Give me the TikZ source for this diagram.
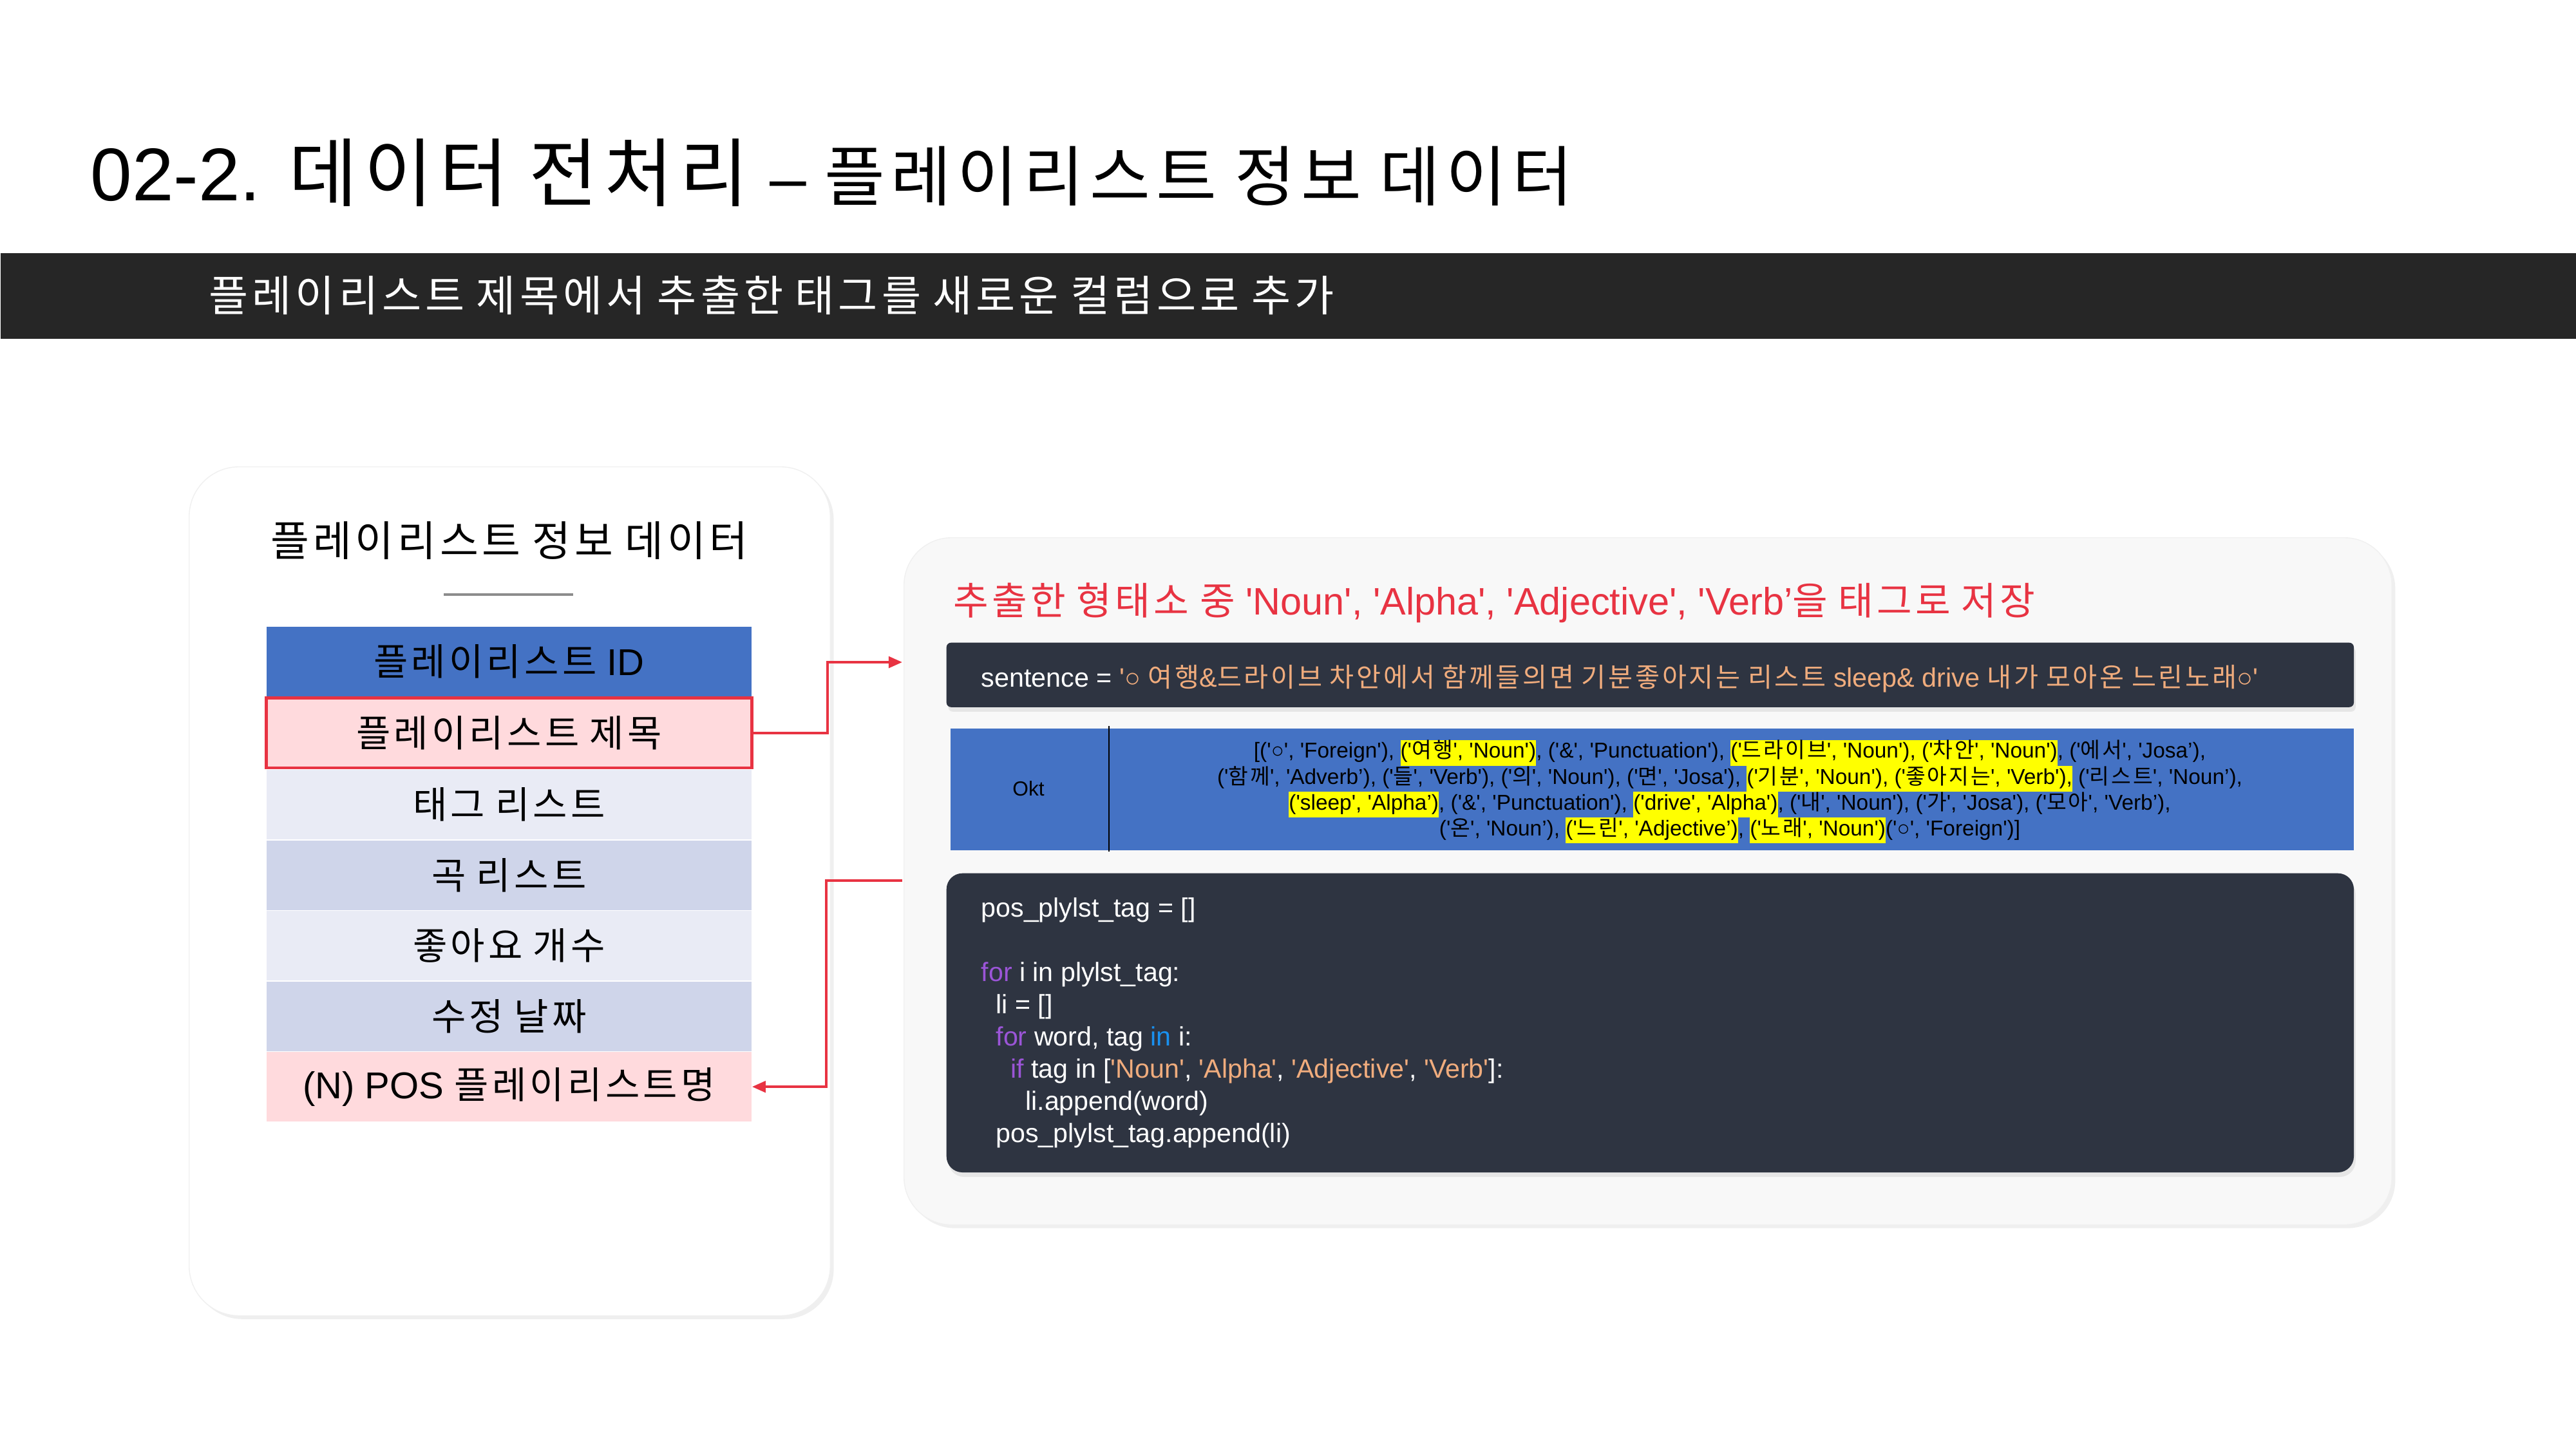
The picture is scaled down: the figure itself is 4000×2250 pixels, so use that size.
\documentclass[tikz,border=0pt]{standalone}
\usepackage{fontspec}
\setmainfont{Liberation Sans}[Ligatures=TeXOff]
\newfontfamily\krfamily{Noto Sans CJK KR}[LetterSpace=9]
\newXeTeXintercharclass\hangulclass
\count255="AC00
\loop\XeTeXcharclass\count255=\hangulclass
  \ifnum\count255<"D7A3 \advance\count255 by 1 \repeat
\XeTeXinterchartokenstate=1
\XeTeXinterchartoks 0 \hangulclass={\krfamily}
\XeTeXinterchartoks 4095 \hangulclass={\krfamily}
\XeTeXinterchartoks \hangulclass 0={\rmfamily}
\XeTeXinterchartoks \hangulclass 4095={\rmfamily}
\usepackage{tikz}
\usetikzlibrary{arrows.meta,positioning,shadows}
\definecolor{bandgray}{RGB}{38,38,38}
\definecolor{rowblue}{RGB}{68,114,196}
\definecolor{rowpink}{RGB}{255,218,221}
\definecolor{rowlight}{RGB}{233,235,245}
\definecolor{rowmid}{RGB}{207,213,234}
\definecolor{alertred}{RGB}{232,51,66}
\definecolor{cardgray}{RGB}{248,248,248}
\definecolor{codebg}{RGB}{46,52,65}
\definecolor{strorange}{RGB}{240,172,125}
\definecolor{kwpurple}{RGB}{155,85,215}
\definecolor{kwblue}{RGB}{25,145,240}
\definecolor{hlyellow}{RGB}{255,255,0}
\definecolor{linegray}{RGB}{140,140,140}
\newcommand{\okthl}[1]{{\setlength{\fboxsep}{0pt}\colorbox{hlyellow}{\strut#1}}}

\begin{document}
\begin{tikzpicture}[x=0.01cm,y=-0.01cm,
    row/.style={minimum width=7.53cm,minimum height=1.08cm,inner sep=0pt,
      font=\fontsize{16.5}{20}\selectfont},
    card/.style={anchor=north west,inner sep=0pt,draw=black!6,
      drop shadow={shadow xshift=1.5pt,shadow yshift=-1.5pt,opacity=0.12}},
    codepanel/.style={anchor=north west,inner sep=0pt,fill=codebg,
      drop shadow={shadow xshift=0.8pt,shadow yshift=-2pt,opacity=0.15}},
    flow/.style={alertred,line width=1.1pt,-{Triangle[length=6pt,width=5pt]}}]
    \useasboundingbox[fill=white] (0,0) rectangle (4000,2250);

    \node[anchor=base west,inner sep=0pt] (title) at (140,311)
      {\fontsize{33}{39}\selectfont 02-2. 데이터 전처리
       {\fontsize{29}{35}\selectfont – 플레이리스트 정보 데이터}};
    \node[anchor=north west,fill=bandgray,minimum width=40cm,
      minimum height=1.33cm,inner sep=0pt] (band) at (0,392) {};
    \node[anchor=west,text=white,inner sep=0pt,
      font=\fontsize{18.9}{22}\selectfont] (bandtext) at (324,458)
      {플레이리스트 제목에서 추출한 태그를 새로운 컬럼으로 추가};

    \node[card,fill=white,minimum width=9.95cm,minimum height=13.17cm,
      rounded corners=22pt] (infocard) at (293,724) {};
    \node[font=\fontsize{18.5}{22}\selectfont] (infotitle) at (791,839)
      {플레이리스트 정보 데이터};
    \draw[linegray,line width=0.9pt] (689,923) -- (890,923);

    \node[row,fill=rowblue,anchor=north west] (rowid) at (413,972)
      {플레이리스트 ID};
    \node[row,fill=rowpink,draw=alertred,line width=1.4pt,
      below=0pt of rowid] (rowtitle) {플레이리스트 제목};
    \node[row,fill=rowlight,below=0pt of rowtitle] (rowtag) {태그 리스트};
    \node[row,fill=rowmid,below=0pt of rowtag] (rowsong) {곡 리스트};
    \node[row,fill=rowlight,below=0pt of rowsong] (rowlike) {좋아요 개수};
    \node[row,fill=rowmid,below=0pt of rowlike] (rowdate) {수정 날짜};
    \node[row,fill=rowpink,below=0pt of rowdate] (rowpos)
      {(N) POS 플레이리스트명};

    \node[card,fill=cardgray,minimum width=23.09cm,minimum height=10.66cm,
      rounded corners=21pt] (extractcard) at (1403,834) {};
    \node[anchor=west,text=alertred,inner sep=0pt,
      font=\fontsize{16.9}{20}\selectfont] (extracthead) at (1480,936)
      {추출한 형태소 중 'Noun', 'Alpha', 'Adjective', 'Verb’을 태그로 저장};

    \node[codepanel,minimum width=21.84cm,minimum height=1cm,
      rounded corners=2pt] (sentbar) at (1469,997) {};
    \node[anchor=west,text=white,inner sep=0pt,
      font=\fontsize{11.75}{14}\selectfont] (senttext) at (1523,1054)
      {sentence = \textcolor{strorange}{'○ 여행\&드라이브 차안에서 함께들의면 기분좋아지는 리스트 sleep\& drive 내가 모아온 느린노래○'}};

    \node[anchor=north west,fill=rowblue,minimum width=21.78cm,
      minimum height=1.89cm,inner sep=0pt] (okttable) at (1475,1130) {};
    \node[font=\fontsize{9}{11}\selectfont] (oktlabel) at (1597,1224) {Okt};
    \draw[black,line width=0.8pt] (1722,1127) -- (1722,1322);
    \node[align=center,inner sep=0pt,font=\fontsize{9.5}{11.4}\selectfont]
      (okttext) at (2686,1229)
      {[('○', 'Foreign'), \okthl{('여행', 'Noun')}, ('\&', 'Punctuation'), \okthl{('드라이브', 'Noun'), ('차안', 'Noun')}, ('에서', 'Josa’),\\
       ('함께', 'Adverb’), ('들', 'Verb'), ('의', 'Noun'), ('면', 'Josa'), \okthl{('기분', 'Noun'), ('좋아지는', 'Verb'),} ('리스트', 'Noun’),\\
       \okthl{('sleep', 'Alpha’)}, ('\&', 'Punctuation'), \okthl{('drive', 'Alpha')}, ('내', 'Noun'), ('가', 'Josa'), ('모아', 'Verb’),\\
       ('온', 'Noun’), \okthl{('느린', 'Adjective’)}, \okthl{('노래', 'Noun')}('○', 'Foreign')]};

    \node[codepanel,minimum width=21.84cm,minimum height=4.64cm,
      rounded corners=7pt] (codebox) at (1469,1355) {};
    \node[anchor=north west,align=left,text=white,inner sep=0pt,
      font=\fontsize{11.7}{14.2}\selectfont] (codetext) at (1523,1393)
      {pos\_plylst\_tag = []\\
       \mbox{}\\
       \textcolor{kwpurple}{for} i in plylst\_tag:\\
       \hspace*{6.5pt}li = []\\
       \hspace*{6.5pt}\textcolor{kwpurple}{for} word, tag \textcolor{kwblue}{in} i:\\
       \hspace*{13pt}\textcolor{kwpurple}{if} tag in [\textcolor{strorange}{'Noun'}, \textcolor{strorange}{'Alpha'}, \textcolor{strorange}{'Adjective'}, \textcolor{strorange}{'Verb'}]:\\
       \hspace*{19.5pt}li.append(word)\\
       \hspace*{6.5pt}pos\_plylst\_tag.append(li)};

    \coordinate (inport) at (1401,1028);
    \coordinate (outport) at (1401,1367);
    \draw[flow] (rowtitle.east) -- ++(115,0) |- (inport);
    \draw[flow] (outport) -- ++(-118,0) |- (rowpos.east);
\end{tikzpicture}
\end{document}
